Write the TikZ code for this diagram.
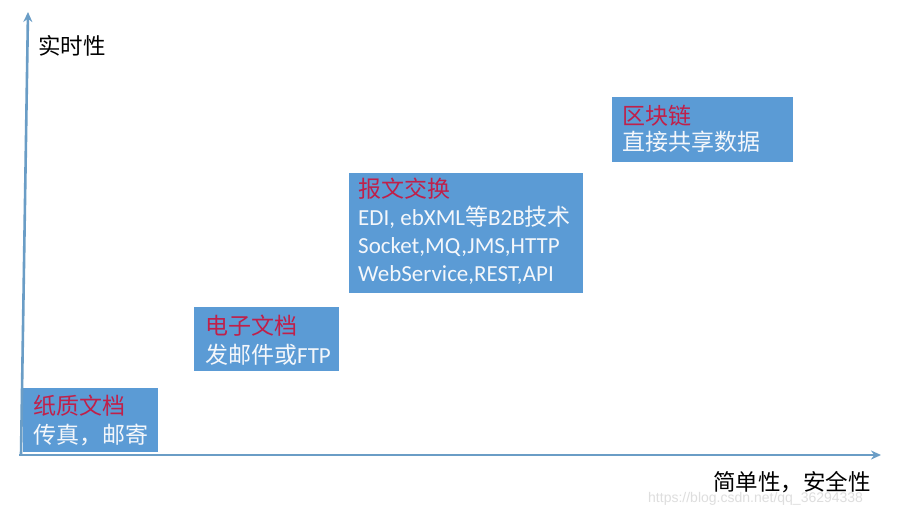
\documentclass[tikz,border=0pt]{standalone}
\usepackage{fontspec}
\setmainfont{Carlito}
\newfontfamily\cjk{Noto Sans CJK SC}
\newfontfamily\wmfont{Liberation Sans}
\usetikzlibrary{arrows.meta}
\definecolor{boxblue}{HTML}{5B9BD5}
\definecolor{titlered}{HTML}{C0204A}
\definecolor{axisblue}{HTML}{6A9DC6}
\definecolor{txtwhite}{HTML}{F4F7FB}
\begin{document}
\begin{tikzpicture}[x=1pt,y=-1pt,
 box/.style={fill=boxblue, draw=none, inner sep=0pt, anchor=north west},
 ttl/.style={anchor=base west, inner sep=0pt, text=titlered, font=\cjk\fontsize{23}{27}\selectfont},
 bdy/.style={anchor=base west, inner sep=0pt, text=txtwhite, font=\fontsize{23}{27}\selectfont},
 lbl/.style={anchor=base west, inner sep=0pt, text=black, font=\cjk\fontsize{22.5}{26}\selectfont},
 wm/.style={anchor=base west, inner sep=0pt, text=black!13, font=\wmfont\fontsize{14}{16}\selectfont},
 axisline/.style={draw=axisblue, line width=2.6pt, -{Stealth[length=10pt,width=9pt]}}]
\useasboundingbox (0,0) rectangle (900,514);
\fill[white] (0,0) rectangle (900,514);

% boxes
\node[box, minimum width=135pt, minimum height=64pt] (b1) at (23,388) {};
\node[box, minimum width=145pt, minimum height=64pt] (b2) at (194,307) {};
\node[box, minimum width=234pt, minimum height=120pt] (b3) at (349,173) {};
\node[box, minimum width=181pt, minimum height=65pt] (b4) at (612,97) {};

% box texts
\node[ttl] (t1) at (33,414) {纸质文档};
\node[bdy] (l1) at (33,443) {\cjk 传真，邮寄};

\node[ttl] (t2) at (205,334) {电子文档};
\node[bdy] (l2) at (205,363) {{\cjk 发邮件或}FTP};

\node[ttl] (t3) at (358,197) {报文交换};
\node[bdy] (l3a) at (358,225) {EDI, ebXML{\cjk 等}B2B{\cjk 技术}};
\node[bdy] (l3b) at (358,253) {Socket,MQ,JMS,HTTP};
\node[bdy] (l3c) at (358,281) {WebService,REST,API};

\node[ttl] (t4) at (622,124) {区块链};
\node[bdy] (l4) at (622,150) {\cjk 直接共享数据};

% axes
\coordinate (o) at (21,455);
\coordinate (ox) at (19,455);
\coordinate (ytip) at (28,12);
\coordinate (xtip) at (881,455);
\draw[axisline] (o) -- (ytip);
\draw[axisline] (ox) -- (xtip);

% axis labels
\node[lbl] (ylab) at (38,54) {实时性};
\node[wm] (wmk) at (648,502) {https://blog.csdn.net/qq\_36294338};
\node[lbl] (xlab) at (713,490) {简单性，安全性};
\end{tikzpicture}
\end{document}
